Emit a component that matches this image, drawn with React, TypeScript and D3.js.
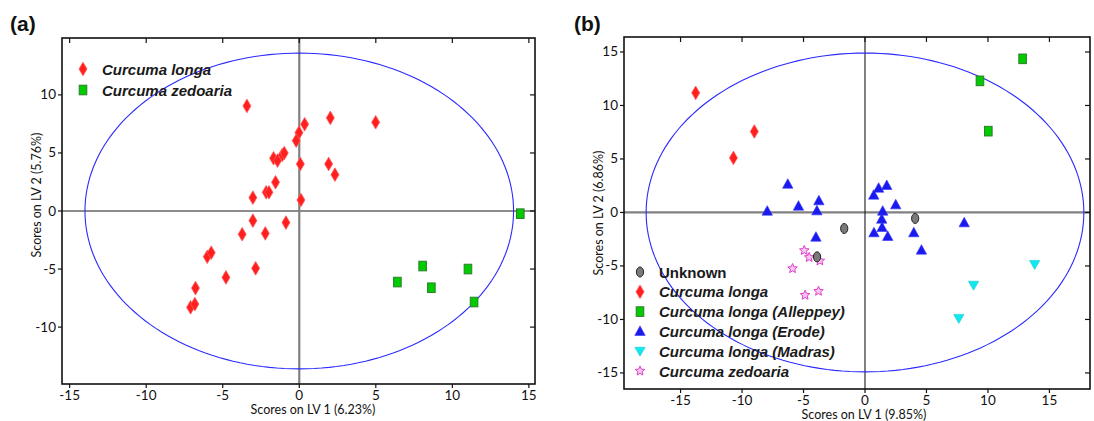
import React from "react";
import * as d3 from "d3";

// ---------- Data: panel (a) ----------
const longaA: [number, number][] = [
  [-3.42, 9.05], [0.35, 7.47], [-0.02, 6.75], [-0.2, 6.06], [-1.68, 4.54], [-1.42, 4.34],
  [-1.11, 4.83], [-0.98, 4.99], [0.07, 4.05], [-1.55, 2.47], [-2.16, 1.61], [-1.98, 1.61],
  [-3.03, 1.15], [0.11, 0.95], [2.03, 8.02], [4.99, 7.64], [1.92, 4.05], [2.33, 3.13],
  [-3.03, -0.83], [-0.87, -1.0], [-3.73, -2.0], [-2.22, -1.93], [-6.01, -3.94], [-5.75, -3.59],
  [-2.85, -4.94], [-4.79, -5.72], [-6.78, -6.64], [-7.1, -8.3], [-6.82, -8.02],
];
const zedoariaA: [number, number][] = [
  [14.44, -0.23], [8.06, -4.74], [11.02, -5.0], [6.41, -6.12], [8.63, -6.61], [11.42, -7.84],
];

// ---------- Data: panel (b) ----------
const unknownB: [number, number][] = [[-1.69, -1.5], [4.08, -0.56], [-3.9, -4.15]];
const longaB: [number, number][] = [[-13.77, 11.18], [-9.0, 7.57], [-10.7, 5.1]];
const alleppeyB: [number, number][] = [[12.82, 14.36], [9.35, 12.3], [10.03, 7.6]];
const erodeB: [number, number][] = [
  [-6.28, 2.64], [-7.95, 0.12], [-5.41, 0.59], [-3.75, 1.09], [-3.91, 0.15], [-3.99, -2.31],
  [1.11, 2.27], [1.77, 2.52], [0.71, 1.62], [2.5, 0.71], [1.44, 0.12], [1.36, -0.63],
  [1.39, -1.4], [0.73, -1.9], [1.85, -2.24], [3.97, -1.9], [4.59, -3.52], [8.07, -0.97],
];
const madrasB: [number, number][] = [[13.8, -4.86], [8.83, -6.8], [7.63, -9.9]];
const zedoariaB: [number, number][] = [
  [-4.94, -3.55], [-4.54, -4.2], [-3.67, -4.52], [-5.89, -5.24], [-4.87, -7.73], [-3.78, -7.36],
];

const ticksA_x = [-15, -10, -5, 0, 5, 10, 15];
const ticksA_y = [-10, -5, 0, 5, 10];
const ticksB_x = [-15, -10, -5, 0, 5, 10, 15];
const ticksB_y = [-15, -10, -5, 0, 5, 10, 15];

const legendA = ["Curcuma longa", "Curcuma zedoaria"];
const legendB = [
  "Unknown",
  "Curcuma longa",
  "Curcuma longa (Alleppey)",
  "Curcuma longa (Erode)",
  "Curcuma longa (Madras)",
  "Curcuma zedoaria",
];

type Kind = "diamond" | "square" | "up" | "down" | "oval" | "star";

const TICK_FONT = "Lato, 'Open Sans', sans-serif";
const LEG_FONT = "'Liberation Sans', Arial, sans-serif";

function Marker({ kind, x, y }: { kind: Kind; x: number; y: number }) {
  switch (kind) {
    case "diamond":
      return (
        <path
          d={`M${x},${y - 6.8} L${x + 4},${y} L${x},${y + 6.8} L${x - 4},${y} Z`}
          fill="#ff1f1f"
          stroke="#ff5a5a"
          strokeWidth={0.8}
        />
      );
    case "square":
      return (
        <rect x={x - 3.8} y={y - 4.8} width={7.6} height={9.6} fill="#00cc00" stroke="#2f7d2f" strokeWidth={1} />
      );
    case "up":
      return <path d={`M${x},${y - 5.5} L${x + 5.2},${y + 4} L${x - 5.2},${y + 4} Z`} fill="#1a1aee" stroke="#3030ff" strokeWidth={0.6} />;
    case "down":
      return <path d={`M${x},${y + 5} L${x + 5.2},${y - 4} L${x - 5.2},${y - 4} Z`} fill="#10e8f0" stroke="#20c8d0" strokeWidth={0.6} />;
    case "oval":
      return <ellipse cx={x} cy={y} rx={3.6} ry={5} fill="#7a7a7a" stroke="#222" strokeWidth={1} />;
    case "star": {
      const pts: string[] = [];
      for (let i = 0; i < 10; i++) {
        const r = i % 2 === 0 ? 5 : 2.3;
        const a = (Math.PI / 5) * i - Math.PI / 2;
        pts.push(`${x + r * Math.cos(a)},${y + r * Math.sin(a)}`);
      }
      return <polygon points={pts.join(" ")} fill="#f6c6ef" stroke="#e040cc" strokeWidth={1} />;
    }
  }
}

interface PanelProps {
  left: number;
  right: number;
  top: number;
  bottom: number;
  xDom: [number, number];
  yDom: [number, number];
  xTicks: number[];
  yTicks: number[];
  ell: [number, number];
  vGray: boolean;
  series: { data: [number, number][]; kind: Kind }[];
  xTitle: string;
  xTitlePos: [number, number];
  yTitle: string;
  yTitlePos: [number, number];
  label: string;
  labelPos: [number, number];
  legend: { text: string; kind: Kind; italic: boolean }[];
  legendPos: [number, number];
  legendStep: number;
}

function Panel(p: PanelProps) {
  const x = d3.scaleLinear().domain(p.xDom).range([p.left, p.right]);
  const y = d3.scaleLinear().domain(p.yDom).range([p.bottom, p.top]);
  const ellPts = d3.range(0, 361, 2).map((deg) => {
    const a = (deg * Math.PI) / 180;
    return [p.ell[0] * Math.cos(a), p.ell[1] * Math.sin(a)] as [number, number];
  });
  const ellPath = d3
    .line<[number, number]>()
    .x((d) => x(d[0]))
    .y((d) => y(d[1]))(ellPts) as string;
  const grayStyle = { stroke: "#808080", strokeWidth: 2.2 };
  const blackStyle = { stroke: "#1a1a1a", strokeWidth: 1.1 };
  return (
    <g>
      <text x={p.labelPos[0]} y={p.labelPos[1]} fontFamily={LEG_FONT} fontWeight="bold" fontSize={21} fill="#111">
        {p.label}
      </text>
      {/* zero lines */}
      <line x1={p.left} x2={p.right} y1={y(0)} y2={y(0)} {...(p.vGray ? blackStyle : grayStyle)} />
      <line x1={x(0)} x2={x(0)} y1={p.top} y2={p.bottom} {...(p.vGray ? grayStyle : blackStyle)} />
      <path d={ellPath} fill="none" stroke="#2a2aff" strokeWidth={1.1} />
      {p.series.map((s, i) => (
        <g key={i}>
          {s.data.map((d, j) => (
            <Marker key={j} kind={s.kind} x={x(d[0])} y={y(d[1])} />
          ))}
        </g>
      ))}
      {/* frame */}
      <rect x={p.left} y={p.top} width={p.right - p.left} height={p.bottom - p.top} fill="none" stroke="#111" strokeWidth={1.6} />
      {p.xTicks.map((t) => (
        <g key={"xt" + t}>
          <line x1={x(t)} x2={x(t)} y1={p.top} y2={p.top + 5} stroke="#111" strokeWidth={1.2} />
          <line x1={x(t)} x2={x(t)} y1={p.bottom} y2={p.bottom + 4} stroke="#111" strokeWidth={1.2} />
          <text x={x(t)} y={p.bottom + 16} textAnchor="middle" fontFamily={TICK_FONT} fontSize={13.5} fill="#111">
            {t}
          </text>
        </g>
      ))}
      {p.yTicks.map((t) => (
        <g key={"yt" + t}>
          <line x1={p.left - 4} x2={p.left} y1={y(t)} y2={y(t)} stroke="#111" strokeWidth={1.2} />
          <line x1={p.right - 5} x2={p.right} y1={y(t)} y2={y(t)} stroke="#111" strokeWidth={1.2} />
          <text x={p.left - 6} y={y(t) + 4.5} textAnchor="end" fontFamily={TICK_FONT} fontSize={13.5} fill="#111">
            {t}
          </text>
        </g>
      ))}
      <text x={p.xTitlePos[0]} y={p.xTitlePos[1]} textAnchor="middle" fontFamily={TICK_FONT} fontSize={12.5} fill="#111">
        {p.xTitle}
      </text>
      <text
        transform={`translate(${p.yTitlePos[0]},${p.yTitlePos[1]}) rotate(-90)`}
        textAnchor="middle"
        fontFamily={TICK_FONT}
        fontSize={12.5}
        fill="#111"
      >
        {p.yTitle}
      </text>
      {p.legend.map((l, i) => (
        <g key={"lg" + i}>
          <Marker kind={l.kind} x={p.legendPos[0]} y={p.legendPos[1] + i * p.legendStep} />
          <text
            x={p.legendPos[0] + 19}
            y={p.legendPos[1] + i * p.legendStep + 5.5}
            fontFamily={LEG_FONT}
            fontWeight="bold"
            fontStyle={l.italic ? "italic" : "normal"}
            fontSize={15}
            fill="#1a1a1a"
          >
            {l.text}
          </text>
        </g>
      ))}
    </g>
  );
}

export default function App() {
  return (
    <svg width={1094} height={421} style={{ position: "absolute", left: 0, top: 0, background: "#fff" }}>
      <rect width={1094} height={421} fill="#fff" />
      <Panel
        left={62}
        right={535}
        top={38}
        bottom={384}
        xDom={[-15.5, 15.4]}
        yDom={[-14.9, 14.9]}
        xTicks={ticksA_x}
        yTicks={ticksA_y}
        ell={[14, 13.6]}
        vGray={true}
        series={[
          { data: longaA, kind: "diamond" },
          { data: zedoariaA, kind: "square" },
        ]}
        xTitle="Scores on LV 1 (6.23%)"
        xTitlePos={[313, 414]}
        yTitle="Scores on LV 2 (5.76%)"
        yTitlePos={[41, 195]}
        label="(a)"
        labelPos={[10, 31]}
        legend={[
          { text: legendA[0], kind: "diamond", italic: true },
          { text: legendA[1], kind: "square", italic: true },
        ]}
        legendPos={[83, 69]}
        legendStep={21}
      />
      <Panel
        left={624}
        right={1090}
        top={37}
        bottom={389}
        xDom={[-19.6, 18.3]}
        yDom={[-16.5, 16.4]}
        xTicks={ticksB_x}
        yTicks={ticksB_y}
        ell={[17.8, 14.9]}
        vGray={false}
        series={[
          { data: longaB, kind: "diamond" },
          { data: alleppeyB, kind: "square" },
          { data: erodeB, kind: "up" },
          { data: madrasB, kind: "down" },
          { data: zedoariaB, kind: "star" },
          { data: unknownB, kind: "oval" },
        ]}
        xTitle="Scores on LV 1 (9.85%)"
        xTitlePos={[864, 419]}
        yTitle="Scores on LV 2 (6.86%)"
        yTitlePos={[603, 213]}
        label="(b)"
        labelPos={[574, 31]}
        legend={[
          { text: legendB[0], kind: "oval", italic: false },
          { text: legendB[1], kind: "diamond", italic: true },
          { text: legendB[2], kind: "square", italic: true },
          { text: legendB[3], kind: "up", italic: true },
          { text: legendB[4], kind: "down", italic: true },
          { text: legendB[5], kind: "star", italic: true },
        ]}
        legendPos={[640, 272]}
        legendStep={19.8}
      />
    </svg>
  );
}
